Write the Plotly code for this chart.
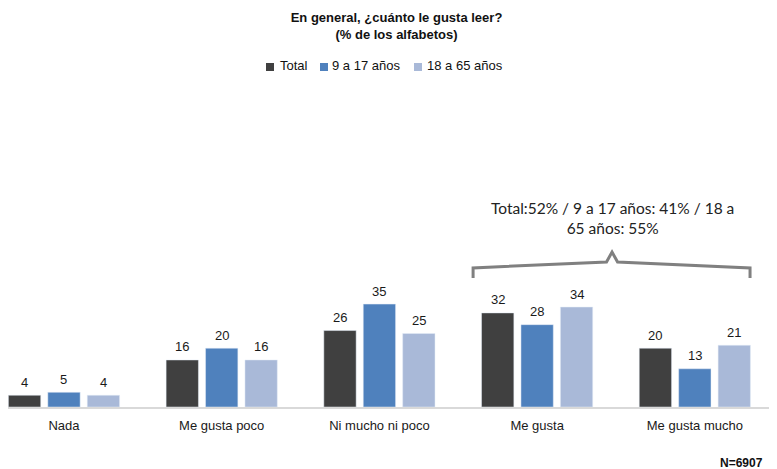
import plotly.graph_objects as go

categories = ["Nada", "Me gusta poco", "Ni mucho ni poco", "Me gusta", "Me gusta mucho"]
series_names = ["Total", "9 a 17 años", "18 a 65 años"]
total = [4, 16, 26, 32, 20]
age_9_17 = [5, 20, 35, 28, 13]
age_18_65 = [4, 16, 25, 34, 21]
colors = ["#404040", "#4F81BD", "#A9B9D8"]

font = "Liberation Sans"
W, H = 777, 469
ML, MR, MT, MB = 0, 2, 92, 70
PW, PH = W - ML - MR, H - MT - MB


def px_x(fx):
    return (fx - ML) / PW


def px_y(fy):
    return (H - MB - fy) / PH


series = [total, age_9_17, age_18_65]
fig = go.Figure()
for name, vals, col in zip(series_names, series, colors):
    fig.add_trace(go.Bar(
        x=categories, y=vals, name=name, marker_color=col,
        showlegend=False, cliponaxis=False,
    ))

# value labels above bars
n_series = len(series)
slot = (1 - 0.25) / n_series
for j, vals in enumerate(series):
    for i, v in enumerate(vals):
        fig.add_annotation(
            x=i + (j - (n_series - 1) / 2) * slot, y=v, xref="x", yref="y",
            text=str(v), showarrow=False, yanchor="middle", yshift=13,
            font=dict(family=font, size=13, color="#1a1a1a"),
        )

fig.update_layout(
    width=W, height=H,
    margin=dict(l=ML, r=MR, t=MT, b=MB),
    paper_bgcolor="white", plot_bgcolor="white",
    barmode="group", bargap=0.25, bargroupgap=0.18,
    font=dict(family=font, size=13, color="#222222"),
    title=dict(
        text="<b>En general, ¿cuánto le gusta leer?<br>(% de los alfabetos)</b>",
        x=0.5, xanchor="center", y=0.9707, yanchor="top",
        font=dict(family=font, size=13, color="#111111"),
    ),
    showlegend=False,
    xaxis=dict(
        range=[-0.355, 4.559], showline=True, linecolor="#d9d9d9", linewidth=2,
        ticks="outside", ticklen=5, tickcolor="rgba(0,0,0,0)",
        tickfont=dict(family=font, size=13, color="#1a1a1a"),
        showgrid=False,
    ),
    yaxis=dict(range=[0, 104.4], visible=False, showgrid=False),
)

# manual legend
leg_sq_x = [258, 312, 406]
leg_txt_x = [270, 322, 417]
for name, col, sx, tx in zip(series_names, colors, leg_sq_x, leg_txt_x):
    fig.add_shape(
        type="rect", xref="paper", yref="paper",
        x0=px_x(sx), x1=px_x(sx + 8), y0=px_y(63), y1=px_y(55),
        fillcolor=col, line=dict(width=0),
    )
    fig.add_annotation(
        x=px_x(tx), y=px_y(58), xref="paper", yref="paper",
        xanchor="left", yanchor="middle", showarrow=False, text=name,
        font=dict(family=font, size=13, color="#111111"),
    )

# Bracket over "Me gusta"
fig.add_shape(
    type="path", xref="x", yref="y",
    path="M 2.594 43.9 L 2.594 47.3 L 3.44 49.3 L 3.475 52.7 L 3.51 49.3 L 4.35 47.3 L 4.35 43.9",
    line=dict(color="#808080", width=3),
)
fig.add_annotation(
    x=3.475, y=64.3, xref="x", yref="y", yanchor="middle", showarrow=False,
    text="Total:52% / 9 a 17 años: 41% / 18 a<br>65 años: 55%",
    font=dict(family="Lato", size=15.5, color="#222222"),
)
fig.add_annotation(
    x=px_x(757), y=px_y(455), xref="paper", yref="paper", xanchor="right", yanchor="middle",
    showarrow=False, text="<b>N=6907</b>",
    font=dict(family=font, size=12, color="#111111"),
)

fig.write_html("out.html")
